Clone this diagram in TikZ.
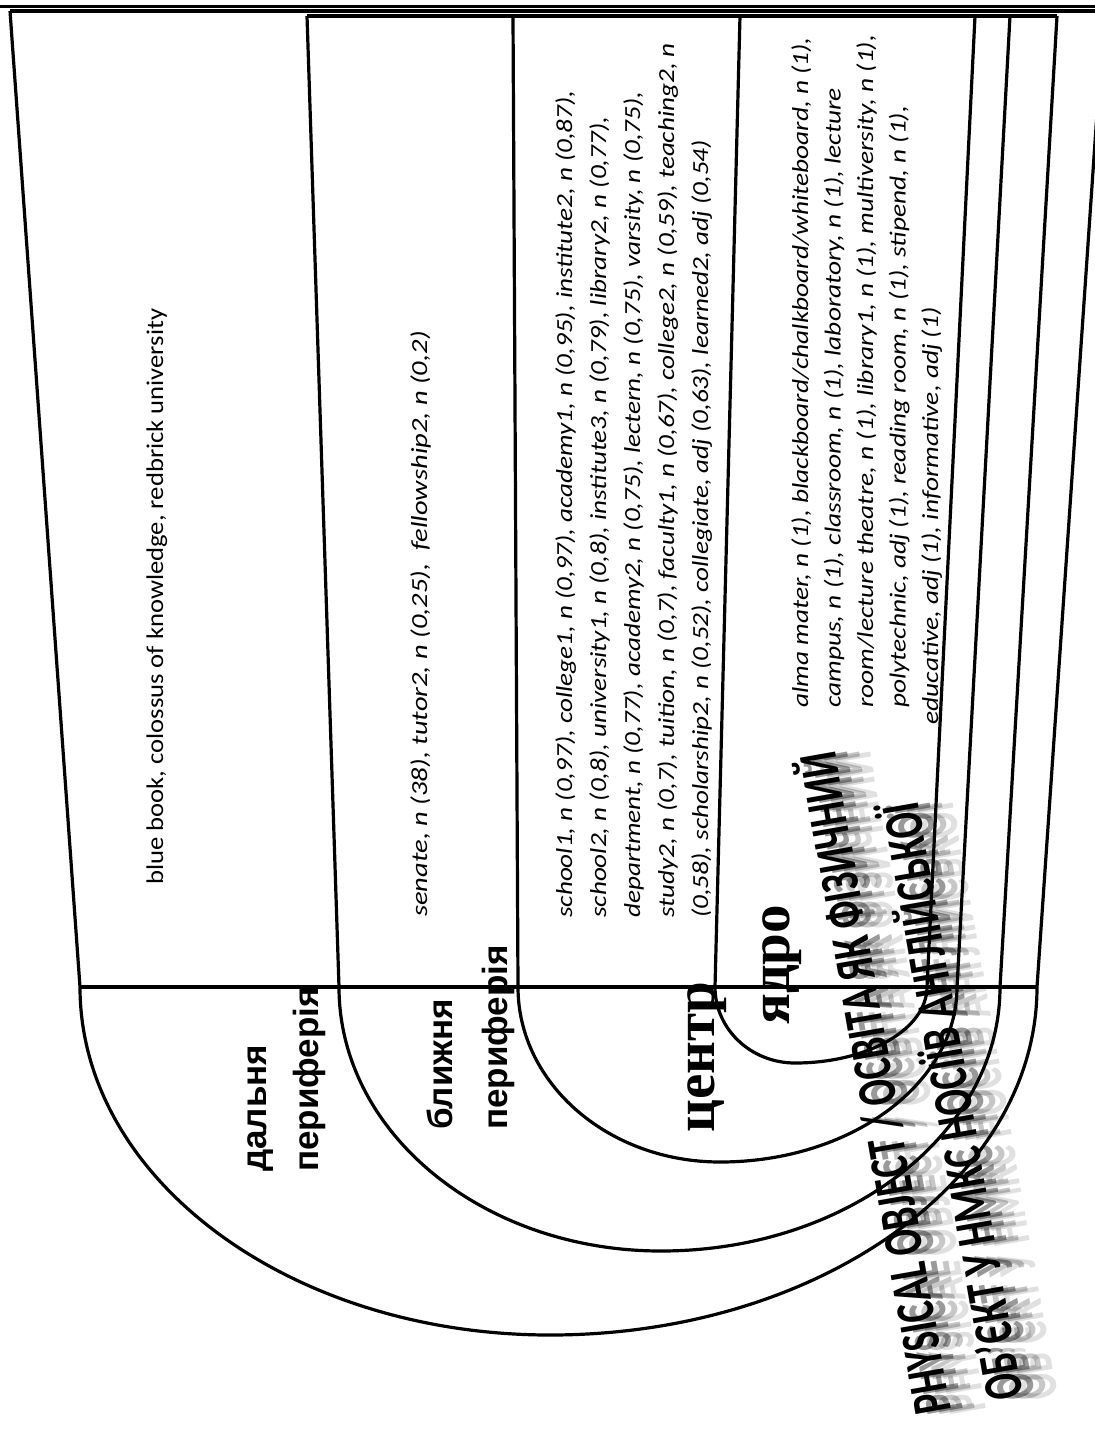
\documentclass[tikz,border=0pt]{standalone}
\usepackage{fontspec}
\usepackage{graphicx}
\setmainfont{Carlito}
\newfontfamily\lsans{Liberation Sans}
\newfontfamily\lserif{Liberation Serif}
\begin{document}
\begin{tikzpicture}[x=1pt,y=-1pt,
  ln/.style={line width=3.2pt,line join=round},
  blk/.style={rotate=90,inner sep=0pt,anchor=north west,align=left},
  one/.style={rotate=90,inner sep=0pt,anchor=base west},
  lbl/.style={rotate=90,inner sep=0pt,anchor=base west,font=\lsans\bfseries\fontsize{35}{40}\selectfont},
  big/.style={rotate=90,inner sep=0pt,anchor=base west,font=\lserif\bfseries\fontsize{57}{60}\selectfont},
  phys/.style={rotate=100,inner sep=0pt,anchor=base east,font=\bfseries\fontsize{55}{60}\selectfont}]
\useasboundingbox (0,0) rectangle (1095,1438);
\clip (0,0) rectangle (1095,1438);
\fill[white] (0,0) rectangle (1095,1438);
% box corners
\coordinate (otl) at (10,11);   \coordinate (obl) at (80,987);  \coordinate (otr) at (1104,11); \coordinate (obr) at (1037,987);
\coordinate (ntl) at (307,16);  \coordinate (nbl) at (339,987); \coordinate (ntr) at (1057,16); \coordinate (nbr) at (1000,987);
\coordinate (ctl) at (513,16);  \coordinate (cbl) at (518,987); \coordinate (ctr) at (1010,16); \coordinate (cbr) at (957,987);
\coordinate (ktl) at (740,16);  \coordinate (kbl) at (715,987); \coordinate (ktr) at (975,16);  \coordinate (kbr) at (927,987);
\coordinate (tl) at (0,6.5); \coordinate (tr) at (1095,6.5);
% frame lines
\draw[ln] (tl) -- (tr);
\draw[ln] (otl) -- (otr);
\draw[ln] (ntl) -- (ntr);
\draw[ln] (otl) -- (obl)
   arc[start angle=180,end angle=270,x radius=470pt,y radius=348pt]
   arc[start angle=270,end angle=360,x radius=487pt,y radius=348pt] -- (otr);
\draw[ln] (ntl) -- (nbl)
   arc[start angle=180,end angle=270,x radius=322pt,y radius=264pt]
   arc[start angle=270,end angle=360,x radius=339pt,y radius=264pt] -- (ntr);
\draw[ln] (ctl) -- (cbl)
   arc[start angle=180,end angle=270,x radius=202pt,y radius=175pt]
   arc[start angle=270,end angle=360,x radius=237pt,y radius=175pt] -- (ctr);
\draw[ln] (ktl) -- (kbl)
   arc[start angle=180,end angle=270,x radius=80pt,y radius=76pt]
   arc[start angle=270,end angle=360,x radius=132pt,y radius=76pt] -- (ktr);
\draw[line width=4pt] (obl) -- (obr);
\draw[line width=4.6pt] (nbl) -- (nbr);
% texts in the strips
\node[one,xscale=1.11,font=\fontsize{24}{30}\selectfont] (far) at (163,885) {blue book, colossus of knowledge, redbrick university};
\node[one,xscale=1.24,font=\itshape\fontsize{23}{30}\selectfont] (near) at (427,917) {senate, n (38), tutor2, n (0,25), \ fellowship2, n (0,2)};
\node[blk,xscale=1.18,font=\itshape\fontsize{23}{34}\selectfont] (centre) at (555,918) {school1, n (0,97), college1, n (0,97), academy1, n (0,95), institute2, n (0,87),\\
school2, n (0,8), university1, n (0,8), institute3, n (0,79), library2, n (0,77),\\
department, n (0,77), academy2, n (0,75), lectern, n (0,75), varsity, n (0,75),\\
study2, n (0,7), tuition, n (0,7), faculty1, n (0,67), college2, n (0,59), teaching2, n\\
(0,58), scholarship2, n (0,52), collegiate, adj (0,63), learned2, adj (0,54)};
\node[blk,xscale=1.19,font=\itshape\fontsize{23}{32.5}\selectfont] (core) at (791,708) {alma mater, n (1), blackboard/chalkboard/whiteboard, n (1),\\
campus, n (1), classroom, n (1), laboratory, n (1), lecture\\
room/lecture theatre, n (1), library1, n (1), multiversity, n (1),\\
polytechnic, adj (1), reading room, n (1), stipend, n (1),\\
\hspace*{-14pt}educative, adj (1), informative, adj (1)};
% zone labels
\node[lbl] (farA) at (266,1172) {дальня};
\node[lbl] (farB) at (318,1172) {периферія};
\node[lbl] (nearA) at (452,1130) {ближня};
\node[lbl] (nearB) at (507,1130) {периферія};
\node[big] (centreL) at (714,1133) {центр};
\node[big] (coreL) at (789,1025) {ядро};
% title with smeared echo
\node[phys,opacity=0.12] (ph1g3) at (870,750) {\scalebox{0.7}[1]{PHYSICAL OBJECT / ОСВІТА ЯК ФІЗИЧНИЙ}};
\node[phys,opacity=0.22] (ph1g2) at (859,750) {\scalebox{0.7}[1]{PHYSICAL OBJECT / ОСВІТА ЯК ФІЗИЧНИЙ}};
\node[phys,opacity=0.4] (ph1g1) at (847,750) {\scalebox{0.7}[1]{PHYSICAL OBJECT / ОСВІТА ЯК ФІЗИЧНИЙ}};
\node[phys] (ph1) at (835,750) {\scalebox{0.7}[1]{PHYSICAL OBJECT / ОСВІТА ЯК ФІЗИЧНИЙ}};
\node[phys,opacity=0.12] (ph2g3) at (953,800) {\scalebox{0.7}[1]{ОБ’ЄКТ У НМКС НОСІЇВ АНГЛІЙСЬКОЇ}};
\node[phys,opacity=0.22] (ph2g2) at (942,800) {\scalebox{0.7}[1]{ОБ’ЄКТ У НМКС НОСІЇВ АНГЛІЙСЬКОЇ}};
\node[phys,opacity=0.4] (ph2g1) at (930,800) {\scalebox{0.7}[1]{ОБ’ЄКТ У НМКС НОСІЇВ АНГЛІЙСЬКОЇ}};
\node[phys] (ph2) at (918,800) {\scalebox{0.7}[1]{ОБ’ЄКТ У НМКС НОСІЇВ АНГЛІЙСЬКОЇ}};
\end{tikzpicture}
\end{document}
